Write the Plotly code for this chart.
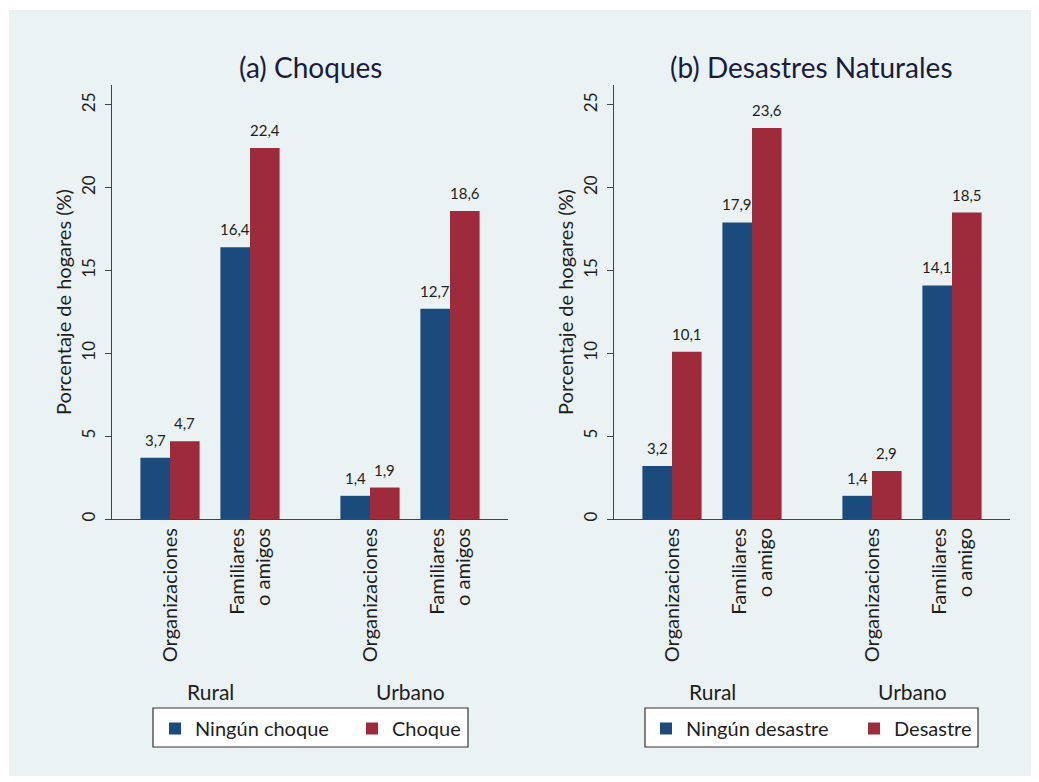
import plotly.graph_objects as go

# Categories and positions along each panel's x axis
categories = ["Organizaciones", "Familiares<br>o amigos", "Organizaciones", "Familiares<br>o amigos"]
categories_b = ["Organizaciones", "Familiares<br>o amigo", "Organizaciones", "Familiares<br>o amigo"]
positions = [0, 1, 2.5, 3.5]
zones = ["Rural", "Urbano"]
zone_positions = [0.5, 3.0]

# (a) Choques
ningun_choque = [3.7, 16.4, 1.4, 12.7]
choque = [4.7, 22.4, 1.9, 18.6]

# (b) Desastres naturales
ningun_desastre = [3.2, 17.9, 1.4, 14.1]
desastre = [10.1, 23.6, 2.9, 18.5]

BLUE = "#1b4b7d"
RED = "#9e2b3b"
BG = "#eaf2f3"
FONT = "Lato"
TXT = "#1e1e1e"
BAR_W = 0.37

W, H = 1039, 782


def px_x(v):
    return v / W


def px_y(v):
    return 1 - v / H


fig = go.Figure()

panels = [
    dict(xa="x", ya="y", legend="legend", series=[("Ningún choque", ningun_choque, BLUE, -BAR_W),
                                                   ("Choque", choque, RED, 0.0)]),
    dict(xa="x2", ya="y2", legend="legend2", series=[("Ningún desastre", ningun_desastre, BLUE, -BAR_W),
                                                      ("Desastre", desastre, RED, 0.0)]),
]

annotations = []
for p in panels:
    for name, vals, color, off in p["series"]:
        fig.add_trace(go.Bar(
            x=positions, y=vals, name=name, width=BAR_W, offset=off,
            marker=dict(color=color, line=dict(width=0)),
            xaxis=p["xa"], yaxis=p["ya"], legend=p["legend"],
        ))
        for xv, yv in zip(positions, vals):
            annotations.append(dict(
                x=xv + off + BAR_W / 2, y=yv, xref=p["xa"], yref=p["ya"],
                text=f"{yv:.1f}".replace(".", ","), showarrow=False,
                yanchor="middle", yshift=18,
                font=dict(family=FONT, size=15, color=TXT),
            ))
    for zlabel, zx in zip(zones, zone_positions):
        annotations.append(dict(
            x=zx, y=px_y(691), xref=p["xa"], yref="paper", text=zlabel,
            showarrow=False, xanchor="center", yanchor="middle",
            font=dict(family=FONT, size=21, color=TXT),
        ))

# Panel titles
for text, cx in [("(a) Choques", 310), ("(b) Desastres Naturales", 811)]:
    annotations.append(dict(x=px_x(cx), y=px_y(67), xref="paper", yref="paper",
                            text=text, showarrow=False,
                            xanchor="center", yanchor="middle",
                            font=dict(family=FONT, size=28, color="#1a1c3e")))

# Light background panel inside a thin white border, plus the legend frames
shapes = [dict(type="rect", xref="paper", yref="paper",
               x0=px_x(9), x1=px_x(1031), y0=px_y(776), y1=px_y(10),
               fillcolor=BG, line=dict(width=0), layer="below")]
for x0, x1 in [(153, 468), (645, 978)]:
    shapes.append(dict(type="rect", xref="paper", yref="paper",
                       x0=px_x(x0), x1=px_x(x1), y0=px_y(747), y1=px_y(708),
                       fillcolor="white", line=dict(color="#333", width=1.2),
                       layer="below"))

y_common = dict(
    range=[0, 26.2], tickvals=[0, 5, 10, 15, 20, 25], tickangle=-90,
    ticks="outside", ticklen=6, tickcolor="#444", showline=True, linecolor="#444",
    linewidth=1, showgrid=False, zeroline=False, ticklabelstandoff=3,
    tickfont=dict(family=FONT, size=17, color=TXT),
    title=dict(text="Porcentaje de hogares (%)", standoff=1,
               font=dict(family=FONT, size=20, color=TXT)),
    domain=[px_y(519), px_y(85)],
)
x_common = dict(
    range=[-0.725, 4.225], tickvals=positions, tickangle=-90,
    ticks="", showline=True, linecolor="#444", linewidth=1,
    showgrid=False, zeroline=False,
    tickfont=dict(family=FONT, size=20, color=TXT),
)

legend_common = dict(orientation="h", xanchor="left", yanchor="top",
                     bgcolor="rgba(0,0,0,0)", borderwidth=0,
                     font=dict(family=FONT, size=20, color=TXT))

fig.update_layout(
    width=W, height=H,
    margin=dict(l=0, r=0, t=0, b=0, autoexpand=False),
    paper_bgcolor="white", plot_bgcolor="white",
    barmode="overlay",
    xaxis=dict(x_common, domain=[px_x(112), px_x(508)], ticktext=categories, anchor="y"),
    yaxis=dict(y_common, anchor="x"),
    xaxis2=dict(x_common, domain=[px_x(614), px_x(1010)], ticktext=categories_b, anchor="y2"),
    yaxis2=dict(y_common, anchor="x2"),
    legend=dict(legend_common, x=px_x(155), y=px_y(709), entrywidth=152),
    legend2=dict(legend_common, x=px_x(646), y=px_y(709), entrywidth=163),
    annotations=annotations,
    shapes=shapes,
)

fig.write_html("out.html")
